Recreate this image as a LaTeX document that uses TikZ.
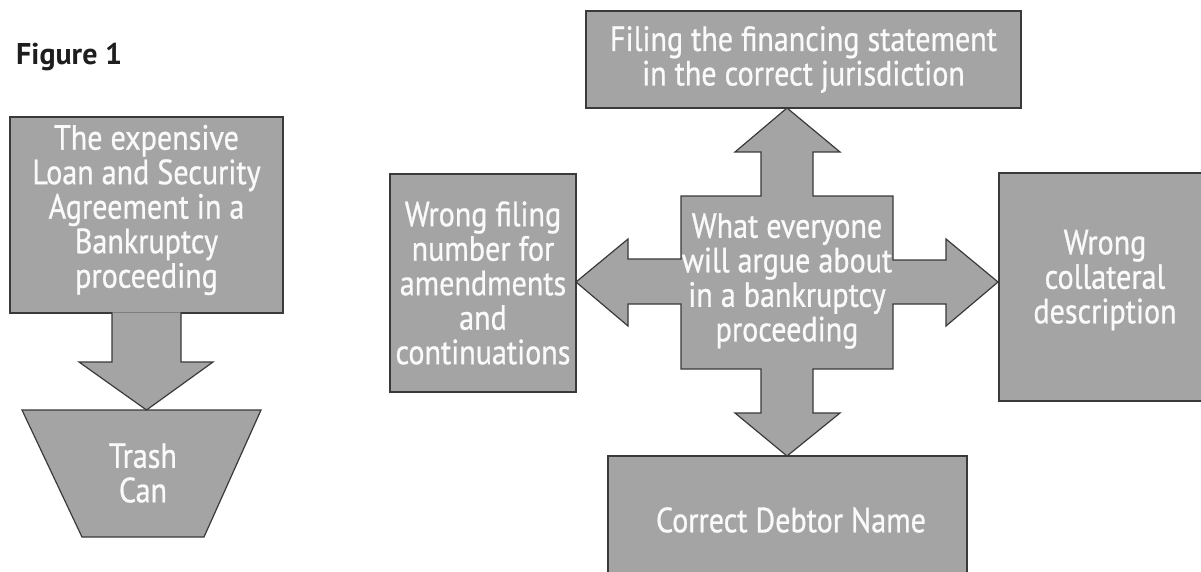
\documentclass[tikz,border=0pt]{standalone}
\usepackage{fontspec}
\setmainfont[FakeStretch=0.86, FakeBold=0.8]{PT Sans}
\newfontfamily\figfont{PT Sans}
\usetikzlibrary{calc}
\definecolor{boxgrey}{HTML}{A4A4A4}
\definecolor{edge}{HTML}{3A3A3A}
\definecolor{txt}{HTML}{FAFAFA}
\definecolor{figtxt}{HTML}{1E1E1E}
\begin{document}
\begin{tikzpicture}[x=1pt,y=-1pt,
  shapestyle/.style={fill=boxgrey, draw=edge, line width=1.2pt, line join=miter},
  box/.style={shapestyle, inner sep=0pt, outer sep=0pt, text=txt, align=center,
    font=\fontsize{35}{34.5}\selectfont},
  lbl/.style={text=txt, align=center, inner sep=0pt, font=\fontsize{35}{34.5}\selectfont}]
\useasboundingbox (0,0) rectangle (1201,572);
\fill[white] (0,0) rectangle (1201,572);

\node[anchor=base west, text=figtxt, inner sep=0pt, font=\figfont\fontsize{30}{30}\selectfont\bfseries] (figlabel) at (16,65) {Figure 1};

% ---------- left figure ----------
\node[box, minimum width=273pt, minimum height=196pt] (loan) at (146.5,215) {};
\node[lbl] (loantext) at (146.5,210)
  {The expensive\\Loan and Security\\Agreement in a\\Bankruptcy\\proceeding};
\draw[shapestyle] (22,410) -- (261,410) -- (204,537) -- (82,537) -- cycle;
\node[lbl] (trash) at (143,473) {Trash\\Can};
\coordinate (cantop) at (146.5,410);
\draw[shapestyle] ($(loan.south)+(-34.5,-0.7)$) -- ($(loan.south)+(-34.5,49)$)
  -- ($(loan.south)+(-67.5,49)$) -- (cantop) -- ($(loan.south)+(66.5,49)$)
  -- ($(loan.south)+(34.5,49)$) -- ($(loan.south)+(34.5,-0.7)$);

% ---------- central cross ----------
\draw[shapestyle] (681,196) -- (761,196) -- (761,152) -- (735,152) -- (787,108)
  -- (840,152) -- (813,152) -- (813,196) -- (893,196) -- (893,260) -- (946,260)
  -- (946,239) -- (998,282) -- (946,326) -- (946,304) -- (893,304) -- (893,369)
  -- (813,369) -- (813,413) -- (840,413) -- (787,456) -- (735,413) -- (761,413)
  -- (761,369) -- (681,369) -- (681,304) -- (628,304) -- (628,326) -- (576,282)
  -- (628,239) -- (628,259) -- (681,259) -- cycle;
\node[lbl] (center) at (787,281)
  {What everyone\\will argue about\\in a bankruptcy\\proceeding};

% ---------- surrounding boxes ----------
\node[box, minimum width=435pt, minimum height=97pt] (top) at (803.5,59.5)
  {Filing the financing statement\\in the correct jurisdiction};
\node[box, minimum width=186pt, minimum height=218pt] (left) at (483,283)
  {Wrong filing\\number for\\amendments\\and\\continuations};
\node[box, minimum width=206pt, minimum height=228pt] (right) at (1102,287) {};
\node[lbl] (righttext) at (1105,280) {Wrong\\collateral\\description};
\node[box, minimum width=359pt, minimum height=128pt] (bottom) at (787.5,520) {};
\node[lbl] (bottomtext) at (791,520) {Correct Debtor Name};
\end{tikzpicture}
\end{document}
